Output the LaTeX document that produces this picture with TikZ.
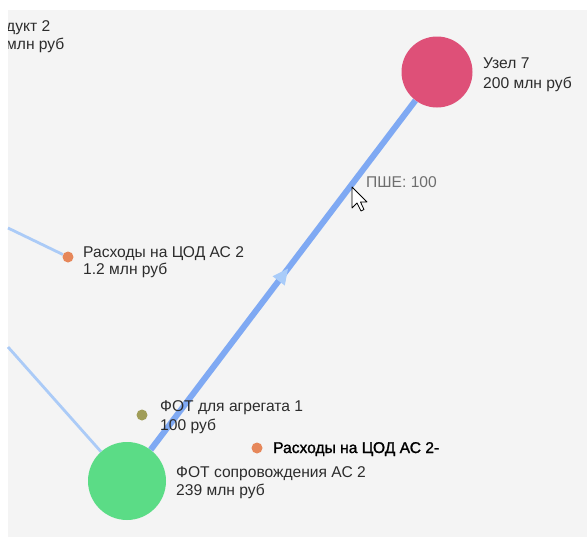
\documentclass[tikz,border=0pt]{standalone}
\usepackage{fontspec}
\setmainfont{Liberation Sans}
\newfontfamily\boldishfont[FakeBold=1.3]{Liberation Sans}
\usetikzlibrary{arrows.meta,decorations.markings}
\definecolor{bgpanel}{HTML}{F4F4F4}
\definecolor{pinknode}{HTML}{DE5078}
\definecolor{greennode}{HTML}{5BDC86}
\definecolor{orangedot}{HTML}{E6875A}
\definecolor{olivedot}{HTML}{A09D58}
\definecolor{edgethick}{HTML}{7FA9F3}
\definecolor{edgethin}{HTML}{ABCBF7}
\definecolor{arrowfill}{HTML}{A9CCF9}
\definecolor{labeltext}{HTML}{2C2C2C}
\definecolor{hovertext}{HTML}{6E6E6E}
\pgfdeclarelayer{bglayer}
\pgfdeclarelayer{edgelayer}
\pgfsetlayers{bglayer,edgelayer,main}
\begin{document}
\begin{tikzpicture}[x=1pt,y=-1pt,
  bignode/.style={circle,inner sep=0pt,draw=none},
  dotnode/.style={circle,inner sep=0pt,minimum size=11pt,draw=none},
  lbl/.style={anchor=base west,inner sep=0pt,font=\fontsize{15.6}{18}\selectfont,text=labeltext},
  thinedge/.style={draw=edgethin,line width=2.8pt},
  thickedge/.style={draw=edgethick,line width=6pt},
  cursorshape/.style={fill=white,draw=black,line width=0.8pt,line join=round}
]
\useasboundingbox (0,0) rectangle (587,538);
\begin{pgfonlayer}{bglayer}
\fill[white] (0,0) rectangle (587,538);
\fill[bgpanel] (8,10) rectangle (587,537);
\end{pgfonlayer}

% nodes
\node[bignode,minimum size=71pt,fill=pinknode] (n7) at (437,72) {};
\node[bignode,minimum size=78pt,fill=greennode] (fot) at (127,481) {};
\node[dotnode,fill=olivedot] (agg) at (142,415) {};
\node[dotnode,fill=orangedot] (codb) at (257,448) {};
\node[dotnode,fill=orangedot] (coda) at (68,257) {};
\coordinate (ea) at (8,228);
\coordinate (eb) at (8,347);

% edges
\begin{pgfonlayer}{edgelayer}
\draw[thinedge] (ea) -- (coda);
\draw[thinedge] (eb) -- (fot);
\draw[thickedge,postaction={decorate},
  decoration={markings,mark=at position 0.52 with {\arrow{Triangle[length=16pt,width=14pt,color=arrowfill]}}}]
  (fot) -- (n7);
\end{pgfonlayer}

% labels
\node[lbl] (t7a) at (483,68) {Узел 7};
\node[lbl] (t7b) at (483,88) {200 млн руб};
\node[lbl] (tfa) at (176,477) {ФОТ сопровождения АС 2};
\node[lbl] (tfb) at (176,495) {239 млн руб};
\node[lbl] (tga) at (160,411) {ФОТ для агрегата 1};
\node[lbl] (tgb) at (160,430) {100 руб};
\node[lbl,text=black,font=\boldishfont\fontsize{15.6}{18}\selectfont] (tcb) at (273,453) {Расходы на ЦОД АС 2-};
\node[lbl] (tca) at (83,257) {Расходы на ЦОД АС 2};
\node[lbl] (tcc) at (83,274) {1.2 млн руб};
\node[lbl,text=hovertext] (tpw) at (366,187) {ПШЕ: 100};
\begin{scope}
\clip (8,10) rectangle (587,537);
\node[lbl] (tpa) at (6,31) {дукт 2};
\node[lbl] (tpb) at (6,49) {млн руб};
\end{scope}

% mouse cursor
\draw[cursorshape] (352,187) -- (352,208) -- (357,203) -- (361,211) -- (364,209.5) -- (360.5,202) -- (367,202) -- cycle;
\end{tikzpicture}
\end{document}
